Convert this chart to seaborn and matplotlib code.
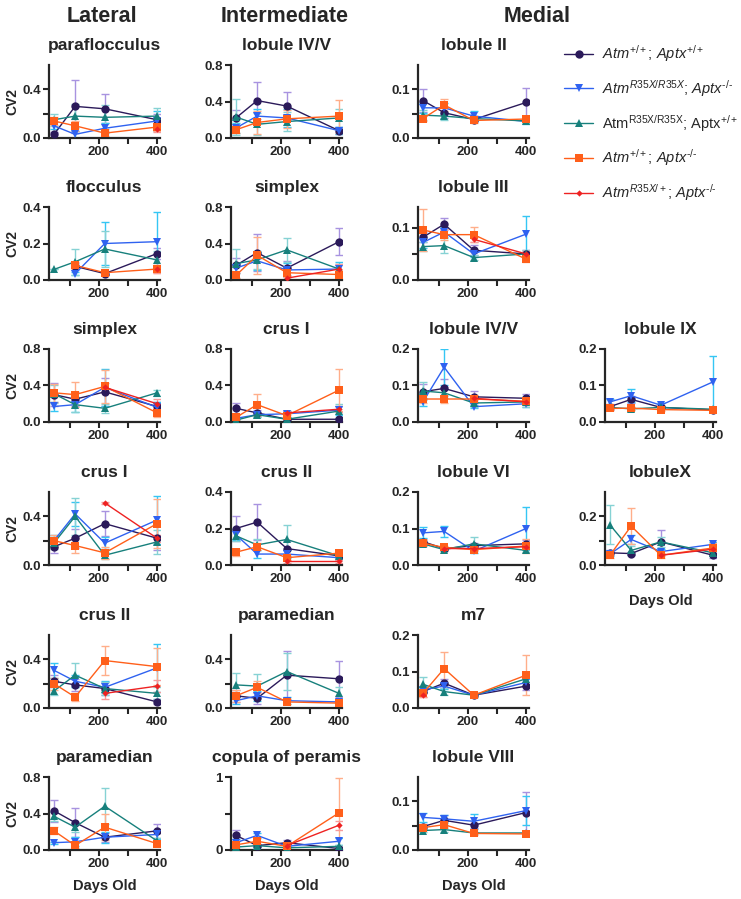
import numpy as np
import pandas as pd
import matplotlib
matplotlib.use("Agg")
import matplotlib.pyplot as plt
from matplotlib.lines import Line2D
import seaborn as sns

nan = np.nan

# -------------------------
# data (rows: wt, dko, atm, aptx, het)
# -------------------------
days = [45, 118, 220, 400]
genotypes = ["wt", "dko", "atm", "aptx", "het"]
legend_labels = [
    r"$\mathit{Atm}^{+/+}$; $\mathit{Aptx}^{+/+}$",
    "$\\mathit{Atm}^{\\mathit{R35X/R35X}}$; $\\mathit{Aptx}^{\u2010/\u2010}$",
    r"Atm$^{\mathrm{R35X/R35X}}$; Aptx$^{+/+}$",
    "$\\mathit{Atm}^{+/+}$; $\\mathit{Aptx}^{\u2010/\u2010}$",
    "$\\mathit{Atm}^{\\mathit{R35X/+}}$; $\\mathit{Aptx}^{\u2010/\u2010}$",
]

lat_parafloc = [[0.03, 0.26, 0.24, 0.15], [0.10, 0.03, 0.08, 0.14], [0.15, 0.18, 0.17, 0.18], [0.14, 0.10, 0.04, 0.09], [nan, nan, nan, 0.07]]
lat_parafloc_sd = [[0.02, 0.22, 0.12, 0.05], [0.03, 0.03, 0.04, 0.08], [0.05, 0.10, 0.10, 0.07], [0.03, 0.04, 0.02, 0.03], [nan, nan, nan, 0.02]]
lat_floc = [[nan, 0.075, 0.035, 0.145], [nan, 0.035, 0.20, 0.21], [0.058, 0.10, 0.17, 0.11], [nan, 0.08, 0.04, 0.06], [nan, nan, nan, 0.06]]
lat_floc_sd = [[nan, 0.02, 0.01, 0.03], [nan, 0.01, 0.12, 0.16], [0.0, 0.07, 0.10, 0.05], [nan, 0.02, 0.01, 0.02], [nan, nan, nan, 0.02]]
lat_simplex = [[0.30, 0.25, 0.33, 0.17], [0.17, 0.19, 0.38, 0.16], [0.31, 0.19, 0.15, 0.32], [0.32, 0.30, 0.39, 0.10], [nan, nan, 0.38, 0.20]]
lat_simplex_sd = [[0.13, 0.08, 0.15, 0.05], [0.05, 0.08, 0.20, 0.06], [0.10, 0.08, 0.05, 0.03], [0.10, 0.14, 0.18, 0.05], [nan, nan, 0.05, 0.05]]
lat_crus1 = [[0.15, 0.22, 0.34, 0.22], [0.20, 0.42, 0.18, 0.37], [0.18, 0.40, 0.08, 0.19], [0.20, 0.16, 0.10, 0.34], [nan, nan, 0.51, 0.22]]
lat_crus1_sd = [[0.05, 0.08, 0.10, 0.10], [0.05, 0.10, 0.05, 0.20], [0.05, 0.15, 0.03, 0.10], [0.05, 0.06, 0.05, 0.20], [nan, nan, 0.01, 0.03]]
lat_crus2 = [[0.22, 0.19, 0.16, 0.05], [0.31, 0.22, 0.17, 0.33], [0.14, 0.27, 0.16, 0.12], [0.20, 0.09, 0.39, 0.34], [nan, nan, 0.12, 0.18]]
lat_crus2_sd = [[0.05, 0.05, 0.05, 0.02], [0.06, 0.05, 0.05, 0.20], [0.03, 0.10, 0.05, 0.05], [0.05, 0.03, 0.12, 0.15], [nan, nan, 0.05, 0.05]]
lat_paramed = [[0.43, 0.30, 0.14, 0.21], [0.08, 0.09, 0.14, 0.17], [0.37, 0.25, 0.48, 0.10], [0.21, 0.05, 0.25, 0.07], [nan, nan, nan, nan]]
lat_paramed_sd = [[0.12, 0.16, 0.05, 0.08], [0.01, 0.05, 0.06, 0.05], [0.05, 0.05, 0.20, 0.03], [0.04, 0.03, 0.14, 0.03], [nan, nan, nan, nan]]

int_lob45 = [[0.22, 0.41, 0.35, 0.08], [0.11, 0.24, 0.22, 0.08], [0.23, 0.15, 0.18, 0.22], [0.09, 0.17, 0.21, 0.24], [nan, nan, nan, nan]]
int_lob45_sd = [[0.09, 0.20, 0.15, 0.04], [0.05, 0.08, 0.10, 0.04], [0.20, 0.12, 0.10, 0.10], [0.04, 0.13, 0.10, 0.18], [nan, nan, nan, nan]]
int_simplex = [[0.16, 0.30, 0.13, 0.42], [0.13, 0.21, 0.11, 0.12], [0.18, 0.22, 0.33, 0.12], [0.05, 0.27, 0.08, 0.06], [nan, nan, 0.02, 0.12]]
int_simplex_sd = [[0.08, 0.20, 0.08, 0.15], [0.05, 0.10, 0.08, 0.08], [0.16, 0.10, 0.13, 0.06], [0.03, 0.20, 0.05, 0.05], [nan, nan, 0.02, 0.05]]
int_crus1 = [[0.15, 0.10, 0.03, 0.03], [0.04, 0.08, 0.09, 0.13], [0.02, 0.08, 0.03, 0.12], [0.05, 0.19, 0.07, 0.35], [nan, nan, 0.10, 0.14]]
int_crus1_sd = [[0.06, 0.03, 0.01, 0.01], [0.02, 0.02, 0.03, 0.05], [0.01, 0.02, 0.01, 0.08], [0.03, 0.12, 0.03, 0.23], [nan, nan, 0.02, 0.03]]
int_crus2 = [[0.20, 0.235, 0.09, 0.05], [0.165, 0.06, 0.06, 0.04], [0.16, 0.11, 0.14, 0.05], [0.07, 0.10, 0.04, 0.065], [nan, nan, 0.02, 0.02]]
int_crus2_sd = [[0.07, 0.10, 0.04, 0.01], [0.03, 0.02, 0.02, 0.01], [0.03, 0.03, 0.08, 0.01], [0.02, 0.02, 0.01, 0.01], [nan, nan, 0.01, 0.01]]
int_paramed = [[0.10, 0.08, 0.27, 0.24], [0.06, 0.10, 0.06, 0.05], [0.19, 0.18, 0.30, 0.12], [0.10, 0.17, 0.05, 0.04], [nan, nan, nan, nan]]
int_paramed_sd = [[0.05, 0.05, 0.20, 0.15], [0.03, 0.04, 0.03, 0.02], [0.10, 0.10, 0.15, 0.05], [0.05, 0.05, 0.02, 0.02], [nan, nan, nan, nan]]
int_copula = [[0.20, 0.06, 0.10, 0.02], [0.10, 0.20, 0.05, 0.12], [0.04, 0.06, 0.03, 0.05], [0.07, 0.12, 0.05, 0.51], [nan, nan, 0.06, 0.34]]
int_copula_sd = [[0.08, 0.02, 0.04, 0.01], [0.05, 0.03, 0.02, 0.05], [0.02, 0.02, 0.01, 0.02], [0.05, 0.05, 0.03, 0.47], [nan, nan, 0.02, 0.06]]

med_lob2 = [[0.077, 0.052, 0.038, 0.073], [0.062, 0.062, 0.045, 0.034], [0.047, 0.045, 0.040, 0.035], [0.040, 0.068, 0.036, 0.039], [nan, nan, nan, nan]]
med_lob2_sd = [[0.023, 0.010, 0.005, 0.030], [0.010, 0.010, 0.010, 0.005], [0.010, 0.008, 0.005, 0.005], [0.005, 0.013, 0.005, 0.005], [nan, nan, nan, nan]]
med_lob3 = [[0.082, 0.107, 0.057, 0.050], [0.072, 0.092, 0.050, 0.088], [0.064, 0.066, 0.043, 0.050], [0.096, 0.087, 0.087, 0.040], [nan, nan, 0.078, 0.050]]
med_lob3_sd = [[0.010, 0.012, 0.010, 0.008], [0.010, 0.010, 0.005, 0.035], [0.008, 0.015, 0.005, 0.008], [0.040, 0.010, 0.015, 0.005], [nan, nan, 0.005, 0.005]]
med_lob45 = [[0.083, 0.092, 0.069, 0.065], [0.055, 0.150, 0.042, 0.050], [0.085, 0.080, 0.052, 0.055], [0.063, 0.063, 0.063, 0.057], [nan, nan, 0.065, 0.055]]
med_lob45_sd = [[0.020, 0.025, 0.015, 0.012], [0.010, 0.050, 0.005, 0.010], [0.025, 0.010, 0.010, 0.015], [0.010, 0.010, 0.010, 0.010], [nan, nan, 0.005, 0.005]]
med_lob6 = [[0.064, 0.045, 0.053, 0.058], [0.088, 0.092, 0.038, 0.100], [0.058, 0.042, 0.058, 0.040], [0.060, 0.048, 0.042, 0.052], [nan, 0.045, 0.045, 0.050]]
med_lob6_sd = [[0.008, 0.005, 0.008, 0.010], [0.015, 0.015, 0.005, 0.060], [0.005, 0.005, 0.018, 0.005], [0.008, 0.005, 0.005, 0.020], [nan, 0.005, 0.005, 0.005]]
med_m7 = [[0.045, 0.068, 0.035, 0.060], [0.050, 0.060, 0.035, 0.070], [0.065, 0.045, 0.035, 0.080], [0.040, 0.108, 0.035, 0.090], [0.035, nan, nan, nan]]
med_m7_sd = [[0.005, 0.012, 0.005, 0.010], [0.005, 0.008, 0.005, 0.010], [0.020, 0.010, 0.005, 0.020], [0.010, 0.045, 0.005, 0.055], [0.005, nan, nan, nan]]
med_lob8 = [[0.048, 0.061, 0.051, 0.077], [0.067, 0.064, 0.059, 0.081], [0.040, 0.042, 0.035, 0.035], [0.046, 0.052, 0.034, 0.033], [nan, nan, nan, nan]]
med_lob8_sd = [[0.005, 0.010, 0.005, 0.043], [0.010, 0.008, 0.015, 0.030], [0.004, 0.004, 0.003, 0.003], [0.005, 0.005, 0.003, 0.003], [nan, nan, nan, nan]]
med_lob9 = [[0.042, 0.062, 0.040, 0.033], [0.055, 0.072, 0.046, 0.110], [0.040, 0.036, 0.040, 0.035], [0.037, 0.038, 0.034, 0.032], [nan, nan, nan, nan]]
med_lob9_sd = [[0.008, 0.010, 0.005, 0.005], [0.008, 0.018, 0.005, 0.072], [0.005, 0.004, 0.004, 0.003], [0.004, 0.004, 0.003, 0.003], [nan, nan, nan, nan]]
med_lob10 = [[0.050, 0.047, 0.095, 0.040], [0.045, 0.105, 0.055, 0.085], [0.165, 0.060, 0.095, 0.050], [0.040, 0.160, 0.040, 0.070], [nan, nan, 0.040, 0.065]]
med_lob10_sd = [[0.010, 0.005, 0.050, 0.010], [0.010, 0.020, 0.010, 0.010], [0.080, 0.020, 0.020, 0.010], [0.010, 0.075, 0.010, 0.020], [nan, nan, 0.005, 0.005]]

# -------------------------
# style
# -------------------------
line_colors = ["#2b1a5a", "#2f62f0", "#17807c", "#ff5f1a", "#ee2222"]
err_colors = ["#a893e0", "#35c6f4", "#86d2d4", "#ffae8a", "#f79a9a"]
markers = ["o", "v", "^", "s", "D"]
msizes = [6, 6, 6, 5.5, 3.2]

sns.set_style("ticks")
plt.rcParams["font.family"] = ["Liberation Sans", "DejaVu Sans"]
plt.rcParams["mathtext.fontset"] = "custom"
plt.rcParams["mathtext.rm"] = "Liberation Sans"
plt.rcParams["mathtext.it"] = "Liberation Sans:italic"
plt.rcParams["mathtext.bf"] = "Liberation Sans:bold"

W, H = 741, 899
fig = plt.figure(figsize=(W / 100, H / 100), dpi=100)

col_left = [49, 231, 418, 605]
row_top = [65, 207, 349, 492, 635, 777]
ax_w, ax_h = 111, 73

panels = [
    (0, 0, "paraflocculus", lat_parafloc, lat_parafloc_sd, 0.6, [0, 0.2, 0.4], ["0.0", "", "0.4"]),
    (1, 0, "flocculus", lat_floc, lat_floc_sd, 0.4, [0, 0.2, 0.4], ["0.0", "0.2", "0.4"]),
    (2, 0, "simplex", lat_simplex, lat_simplex_sd, 0.8, [0, 0.4, 0.8], ["0.0", "0.4", "0.8"]),
    (3, 0, "crus I", lat_crus1, lat_crus1_sd, 0.6, [0, 0.2, 0.4], ["0.0", "", "0.4"]),
    (4, 0, "crus II", lat_crus2, lat_crus2_sd, 0.6, [0, 0.2, 0.4], ["0.0", "", "0.4"]),
    (5, 0, "paramedian", lat_paramed, lat_paramed_sd, 0.8, [0, 0.4, 0.8], ["0.0", "0.4", "0.8"]),
    (0, 1, "lobule IV/V", int_lob45, int_lob45_sd, 0.8, [0, 0.4, 0.8], ["0.0", "0.4", "0.8"]),
    (1, 1, "simplex", int_simplex, int_simplex_sd, 0.8, [0, 0.4, 0.8], ["0.0", "0.4", "0.8"]),
    (2, 1, "crus I", int_crus1, int_crus1_sd, 0.8, [0, 0.4, 0.8], ["0.0", "0.4", "0.8"]),
    (3, 1, "crus II", int_crus2, int_crus2_sd, 0.4, [0, 0.2, 0.4], ["0.0", "0.2", "0.4"]),
    (4, 1, "paramedian", int_paramed, int_paramed_sd, 0.6, [0, 0.2, 0.4], ["0.0", "", "0.4"]),
    (5, 1, "copula of peramis", int_copula, int_copula_sd, 1.0, [0, 0.5, 1.0], ["0", "", "1"]),
    (0, 2, "lobule II", med_lob2, med_lob2_sd, 0.15, [0, 0.05, 0.1], ["0.0", "", "0.1"]),
    (1, 2, "lobule III", med_lob3, med_lob3_sd, 0.14, [0, 0.05, 0.1], ["0.0", "", "0.1"]),
    (2, 2, "lobule IV/V", med_lob45, med_lob45_sd, 0.2, [0, 0.1, 0.2], ["0.0", "0.1", "0.2"]),
    (3, 2, "lobule VI", med_lob6, med_lob6_sd, 0.2, [0, 0.1, 0.2], ["0.0", "0.1", "0.2"]),
    (4, 2, "m7", med_m7, med_m7_sd, 0.2, [0, 0.1, 0.2], ["0.0", "0.1", "0.2"]),
    (5, 2, "lobule VIII", med_lob8, med_lob8_sd, 0.15, [0, 0.05, 0.1], ["0.0", "", "0.1"]),
    (2, 3, "lobule IX", med_lob9, med_lob9_sd, 0.2, [0, 0.1, 0.2], ["0.0", "0.1", "0.2"]),
    (3, 3, "lobuleX", med_lob10, med_lob10_sd, 0.3, [0, 0.1, 0.2], ["0.0", "", "0.2"]),
]

for row, col, title, means, sds, ytop, yt, ytl in panels:
    left = col_left[col] / W
    bottom = 1 - (row_top[row] + ax_h) / H
    ax = fig.add_axes([left, bottom, ax_w / W, ax_h / H])

    for i, g in enumerate(genotypes):
        df = pd.DataFrame({"day": days, "cv2": means[i], "sd": sds[i]}).dropna(subset=["cv2"])
        if df.empty:
            continue
        ax.errorbar(df["day"], df["cv2"], yerr=df["sd"], fmt="none", ecolor=err_colors[i],
                    elinewidth=1, capsize=3, capthick=1, zorder=1 + i * 0.1)
        sns.lineplot(data=df, x="day", y="cv2", color=line_colors[i], marker=markers[i],
                     markersize=msizes[i], markeredgewidth=0, linewidth=1, ax=ax,
                     estimator=None, sort=False, zorder=3 + i * 0.1)

    ax.set_xlim(28, 410)
    ax.set_ylim(0, ytop)
    ax.set_xticks([100, 200, 300, 400])
    ax.set_xticklabels(["", "200", "", "400"])
    ax.set_yticks(yt)
    ax.set_yticklabels(ytl)
    ax.tick_params(width=1.5, length=4, labelsize=9.5, pad=2)
    for lab in ax.get_xticklabels() + ax.get_yticklabels():
        lab.set_fontweight("bold")
    for s in ["left", "bottom"]:
        ax.spines[s].set_linewidth(1.6)
    sns.despine(ax=ax)
    ax.set_title(title, fontsize=12.5, fontweight="bold", pad=11)
    ax.set_xlabel("")
    ax.set_ylabel("CV2" if col == 0 else "", fontsize=10, fontweight="bold", labelpad=2)
    if row == 5 or (row == 3 and col == 3):
        ax.set_xlabel("Days Old", fontsize=10.5, fontweight="bold", labelpad=6)

# column headers
fig.text(102 / W, 1 - 17 / H, "Lateral", ha="center", va="center", fontsize=15.5, fontweight="bold")
fig.text(285 / W, 1 - 17 / H, "Intermediate", ha="center", va="center", fontsize=15.5, fontweight="bold")
fig.text(537 / W, 1 - 17 / H, "Medial", ha="center", va="center", fontsize=15.5, fontweight="bold")

handles = [Line2D([0], [0], color=line_colors[i], marker=markers[i], markersize=msizes[i],
                  markeredgewidth=0, linewidth=1) for i in range(5)]
fig.legend(handles, legend_labels, loc="upper left", bbox_to_anchor=(551 / W, 1 - 30 / H),
           frameon=False, handlelength=2.0, handletextpad=0.6, labelspacing=0.95,
           prop={"weight": "normal", "size": 10.5})

fig.savefig("out.png", dpi=100)
